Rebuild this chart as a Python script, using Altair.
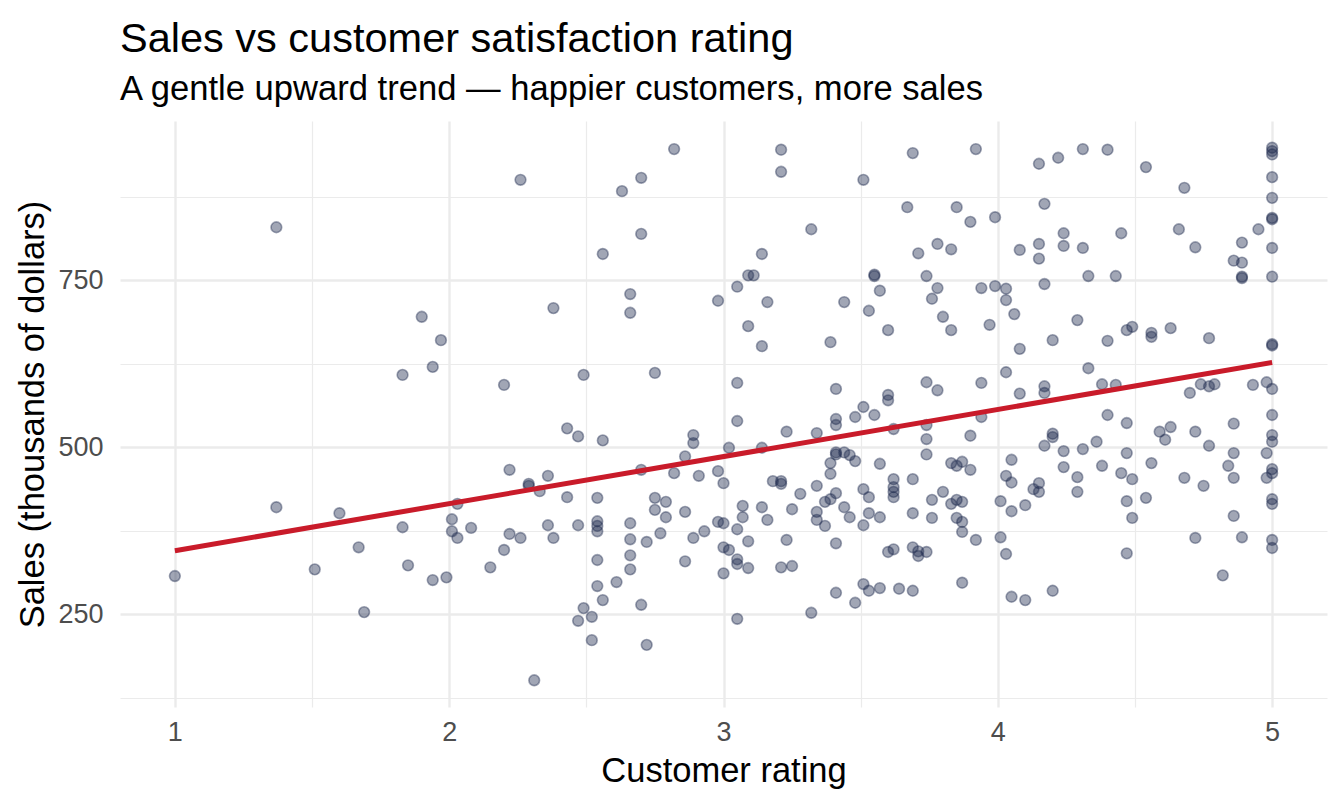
import altair as alt
import pandas as pd

# Customer rating (x) and sales in thousands of dollars (y)
rating = [
    1.00, 1.37, 1.37, 1.51, 1.60, 1.67, 1.69, 1.83, 1.83, 1.85,
    1.90, 1.97, 1.94, 2.26, 2.63, 2.70, 2.82, 2.70, 2.56, 2.66, 2.66, 2.38, 2.20, 2.49, 2.75, 2.98,
    1.94, 1.99, 2.01, 2.01, 2.03, 2.03, 2.08, 2.15, 2.20, 2.22, 2.22, 2.26, 2.29, 2.29, 2.33,
    2.36, 2.36, 2.38, 2.31, 2.43, 2.47, 2.56, 2.43, 2.47, 2.49, 2.47, 2.52, 2.52, 2.54, 2.54,
    2.54, 2.54, 2.54, 2.54, 2.56, 2.61, 2.66, 2.66, 2.66, 2.66, 2.70, 2.72, 2.70, 2.72, 2.75,
    2.75, 2.79, 2.79, 2.77, 2.82, 2.86, 2.86, 2.86, 2.89, 2.89, 2.89, 2.91, 2.93, 2.98, 2.98,
    3.21, 3.21, 3.51, 3.69, 3.92, 3.67, 3.85, 3.90, 3.99, 3.32, 3.14, 3.09, 3.11, 3.05, 3.16,
    3.09, 3.14, 3.39, 3.44, 3.55, 3.55, 3.57, 3.53, 3.60, 3.71, 3.78, 3.83, 3.74, 3.78, 3.76,
    3.80, 3.83, 3.94, 3.99, 4.03, 4.03, 4.06, 3.97, 4.08, 4.08, 4.08, 4.03, 3.94, 3.74, 3.78,
    3.60, 3.41, 3.05,
    3.05, 3.02, 3.14, 3.23, 3.34, 3.41, 3.41, 3.48, 3.51, 3.55, 3.60, 3.62, 3.74, 3.74, 3.74,
    3.90, 3.94, 3.00, 3.07, 3.07, 3.14, 3.16, 3.05, 3.00, 3.00, 3.02, 3.05, 3.05, 3.09, 3.09,
    3.00, 3.05, 3.18, 3.21, 3.21, 3.23, 3.21, 3.25, 3.25, 3.28, 3.34, 3.34, 3.34, 3.37, 3.37,
    3.39, 3.41, 3.39, 3.39, 3.41, 3.41, 3.44, 3.46, 3.48, 3.44, 3.46, 3.41, 3.41, 3.32, 3.48,
    3.51, 3.53, 3.57, 3.64, 3.69, 3.51, 3.53, 3.53, 3.51, 3.57, 3.57, 3.62, 3.62, 3.62, 3.62,
    3.69, 3.69, 3.60, 3.62, 3.69, 3.71, 3.71, 3.74, 3.76, 3.76, 3.80, 3.83, 3.85, 3.87, 3.90,
    3.83, 3.85, 3.87, 3.85, 3.87, 3.87, 3.92, 3.87, 4.01, 4.01, 4.03, 4.03, 4.05, 4.05, 4.05,
    4.05,
    4.15, 4.22, 4.31, 4.40, 4.54, 4.68, 5.00, 5.00, 5.00, 5.00, 5.00, 5.00, 5.00, 5.00, 5.00,
    5.00, 5.00, 5.00, 4.17, 4.24, 4.24, 4.15, 4.15, 4.31, 4.45, 4.66, 4.72, 4.33, 4.43, 4.17,
    4.89, 4.95, 4.86, 4.89, 4.89, 4.89, 4.29, 4.20, 4.40, 4.47, 4.49, 4.56, 4.56, 4.63, 4.77,
    4.33, 4.17, 4.17, 4.38, 4.43, 4.70, 4.74, 4.77, 4.79, 4.93, 4.98,
    4.40, 4.47, 4.59, 4.63, 4.61, 4.72, 4.86, 5.00, 5.00, 5.00, 4.77, 4.98, 4.86, 4.20, 4.20,
    4.17, 4.24, 4.31, 4.36, 4.47, 4.24, 4.38, 4.45, 4.49, 4.56, 4.29, 4.29, 4.68, 4.75, 4.84,
    4.86, 4.98, 5.00, 5.00, 4.15, 4.13, 4.15, 4.10, 4.47, 4.54, 4.49, 4.86, 5.00, 5.00, 4.72,
    4.89, 5.00, 5.00, 4.47, 4.82, 4.10, 4.20,
]
sales = [
    307, 829, 410, 317, 401, 350, 253, 608, 380, 323,
    695, 660, 620, 900, 883, 903, 946, 819, 789, 729, 701, 708, 593, 608, 611, 719,
    301, 305, 392, 374, 415, 364, 379, 320, 346, 466, 370, 364, 445, 442, 434,
    457, 383, 364, 151, 528, 516, 510, 425, 383, 259, 240, 246, 211, 424, 389,
    382, 374, 331, 292, 271, 298, 386, 362, 338, 317, 466, 358, 264, 204, 424,
    406, 418, 395, 371, 461, 486, 403, 329, 518, 506, 364, 457, 374, 464, 388,
    945, 912, 900, 940, 946, 859, 859, 837, 844, 826, 789, 757, 757, 740, 717,
    681, 651, 657, 717, 758, 756, 734, 704, 675, 790, 804, 796, 756, 738, 722,
    695, 675, 738, 741, 737, 720, 699, 683, 795, 647, 580, 612, 596, 597, 585,
    578, 587, 596,
    539, 499, 499, 523, 521, 542, 533, 545, 560, 548, 570, 527, 533, 512, 489,
    517, 545, 446, 412, 395, 410, 391, 377, 386, 350, 346, 332, 325, 359, 319,
    311, 243, 449, 449, 445, 361, 320, 322, 407, 430, 442, 403, 391, 382, 418,
    422, 431, 460, 476, 489, 492, 492, 488, 479, 410, 395, 356, 282, 252, 267,
    295, 285, 289, 288, 285, 437, 425, 401, 383, 395, 475, 452, 440, 433, 425,
    452, 401, 343, 347, 350, 344, 337, 343, 421, 394, 433, 476, 472, 478, 466,
    415, 421, 418, 394, 388, 373, 361, 297, 419, 365, 340, 457, 481, 447, 404,
    276,
    924, 933, 946, 945, 919, 888, 948, 943, 938, 904, 873, 843, 841, 798, 755,
    654, 652, 587, 864, 820, 801, 804, 782, 798, 820, 826, 799, 756, 756, 744,
    806, 826, 779, 776, 755, 753, 690, 660, 659, 675, 680, 671, 665, 678, 663,
    618, 591, 581, 594, 593, 581, 594, 591, 594, 593, 597,
    548, 536, 523, 530, 511, 523, 535, 548, 518, 508, 502, 491, 491, 520, 515,
    502, 494, 497, 508, 491, 470, 472, 461, 452, 476, 455, 433, 454, 442, 472,
    454, 454, 461, 467, 446, 437, 433, 413, 419, 424, 394, 397, 422, 415, 364,
    365, 361, 349, 341, 308, 271, 285,
]

x_grid = [1, 1.5, 2, 2.5, 3, 3.5, 4, 4.5, 5]
y_grid = [125, 250, 375, 500, 625, 750, 875]

df = pd.DataFrame({"rating": rating, "sales": sales})

FONT = "Liberation Sans"

x_enc = alt.X(
    "rating:Q",
    title="Customer rating",
    scale=alt.Scale(domain=[0.8, 5.2], nice=False, zero=False),
    axis=alt.Axis(
        values=x_grid,
        labelExpr="datum.value % 1 == 0 ? format(datum.value, 'd') : ''",
        grid=True,
        gridColor="#EBEBEB",
        gridWidth={"condition": {"test": "datum.value % 1 != 0", "value": 1.2}, "value": 2.4},
        domain=False,
        ticks=False,
        labelFont=FONT,
        labelFontSize=27,
        labelColor="#4D4D4D",
        labelPadding=12,
        titleFont=FONT,
        titleFontSize=34.5,
        titleFontWeight="normal",
        titleColor="#000000",
        titleBaseline="alphabetic",
        titleY=74,
    ),
)
y_enc = alt.Y(
    "sales:Q",
    title="Sales (thousands of dollars)",
    scale=alt.Scale(domain=[111, 988], nice=False, zero=False),
    axis=alt.Axis(
        values=y_grid,
        labelExpr="datum.value % 250 == 0 ? format(datum.value, 'd') : ''",
        grid=True,
        gridColor="#EBEBEB",
        gridWidth={"condition": {"test": "datum.value % 250 != 0", "value": 1.2}, "value": 2.4},
        domain=False,
        ticks=False,
        labelFont=FONT,
        labelFontSize=27,
        labelColor="#4D4D4D",
        labelPadding=17,
        titleFont=FONT,
        titleFontSize=34.5,
        titleFontWeight="normal",
        titleColor="#000000",
        titleBaseline="alphabetic",
        titleX=-77,
    ),
)

points = alt.Chart(df).mark_point(
    shape="circle",
    filled=True,
    size=115,
    color="#1f2a4f",
    fillOpacity=0.42,
    stroke="#1f2a4f",
    strokeOpacity=0.42,
    strokeWidth=1.6,
).encode(x=x_enc, y=y_enc)

trend = alt.Chart(df).transform_regression(
    "rating", "sales", extent=[1, 5]
).mark_line(color="#C91B2A", strokeWidth=5).encode(x=x_enc, y=y_enc)

chart = (
    alt.layer(points, trend)
    .properties(
        width=1207,
        height=586,
        autosize=alt.AutoSizeParams(type="none"),
        padding={"left": 112, "top": 113, "right": 9, "bottom": 88},
        view=alt.ViewBackground(strokeOpacity=0, strokeWidth=0),
        title=alt.TitleParams(
            text="Sales vs customer satisfaction rating",
            subtitle="A gentle upward trend — happier customers, more sales",
            anchor="start",
            frame="group",
            font=FONT,
            fontSize=41.5,
            fontWeight="normal",
            color="#000000",
            subtitleFont=FONT,
            subtitleFontSize=34.6,
            subtitleColor="#000000",
            subtitlePadding=13,
            offset=14,
        ),
    )
    .configure_view(stroke="transparent", strokeWidth=0, strokeOpacity=0)
    .configure(background="white")
)

chart.save("out.html", embed_options={"renderer": "svg", "actions": False})
